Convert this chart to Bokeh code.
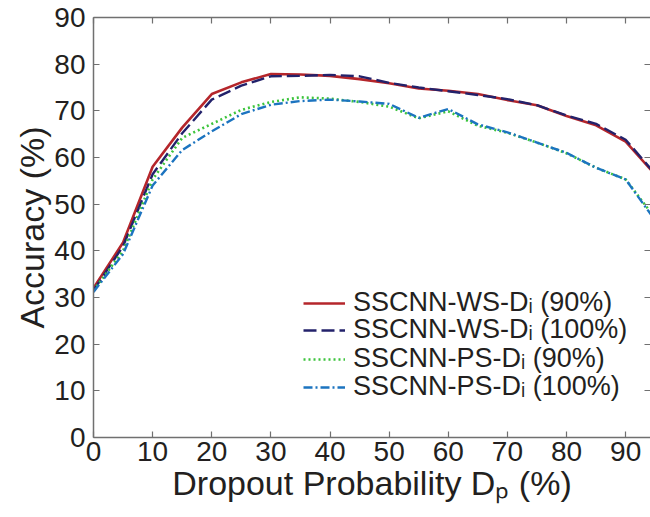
from bokeh.plotting import figure
from bokeh.models import LinearAxis, Legend, LegendItem, Range1d, FixedTicker
from bokeh.embed import file_html
from bokeh.resources import INLINE

# ---- data ----
dropout = [0, 5, 10, 15, 20, 25, 30, 35, 40, 45, 50, 55, 60, 65, 70, 75, 80, 85, 90, 95]
ws_90 = [32.0, 41.8, 58.0, 66.4, 73.6, 76.1, 77.9, 77.8, 77.5, 76.8, 75.9, 74.8, 74.3, 73.6, 72.3, 71.2, 68.9, 66.9, 63.4, 56.3]
ws_100 = [31.5, 41.0, 56.4, 65.2, 72.4, 75.4, 77.4, 77.5, 77.7, 77.4, 76.0, 75.0, 74.2, 73.4, 72.5, 71.2, 69.0, 67.2, 63.8, 56.5]
ps_90 = [31.5, 40.0, 55.3, 64.2, 67.2, 70.2, 71.9, 72.9, 72.6, 71.9, 70.9, 68.4, 69.9, 66.8, 65.3, 63.2, 60.9, 57.8, 55.3, 47.0]
ps_100 = [31.2, 39.3, 54.0, 61.6, 65.6, 69.3, 71.3, 72.1, 72.4, 72.0, 71.5, 68.5, 70.4, 67.1, 65.4, 63.2, 61.0, 57.8, 55.3, 46.5]

series_labels = ["SSCNN-WS-D\u1d62 (90%)", "SSCNN-WS-D\u1d62 (100%)",
                 "SSCNN-PS-D\u1d62 (90%)", "SSCNN-PS-D\u1d62 (100%)"]
x_ticks = [0, 10, 20, 30, 40, 50, 60, 70, 80, 90]
y_ticks = [0, 10, 20, 30, 40, 50, 60, 70, 80, 90]
x_label = "Dropout Probability D\u209a (%)"
y_label = "Accuracy (%)"

FONT = "Liberation Sans"
AXIS_COLOR = "#707070"
TEXT_COLOR = "#231f20"

p = figure(frame_width=557, frame_height=420,
           min_border_left=93, min_border_right=0, min_border_top=17, min_border_bottom=80,
           x_range=Range1d(0, 94.2), y_range=Range1d(0, 90),
           output_backend="svg", toolbar_location=None,
           x_axis_label=x_label, y_axis_label=y_label)
p.outline_line_color = None
p.xgrid.visible = False
p.ygrid.visible = False
p.background_fill_color = "white"
p.border_fill_color = "white"

styles = [
    dict(color="#b5262b", line_width=2.6, line_dash="solid"),
    dict(color="#23226b", line_width=2.4, line_dash="13 5"),
    dict(color="#3cc43c", line_width=2.6, line_dash="2 3"),
    dict(color="#1c74c0", line_width=2.4, line_dash="9 3 2 3"),
]
renderers = []
for ys, st in zip([ws_90, ws_100, ps_90, ps_100], styles):
    r = p.line(dropout, ys, **st)
    renderers.append(r)

for ax in (p.xaxis[0], p.yaxis[0]):
    ax.axis_line_color = AXIS_COLOR
    ax.axis_line_width = 1.5
    ax.major_tick_line_color = AXIS_COLOR
    ax.major_tick_line_width = 1.2
    ax.major_tick_in = 6
    ax.major_tick_out = 0
    ax.minor_tick_line_color = None
    ax.major_label_text_font = FONT
    ax.major_label_text_font_size = "28px"
    ax.major_label_text_color = TEXT_COLOR
    ax.axis_label_text_font = FONT
    ax.axis_label_text_font_size = "34px"
    ax.axis_label_text_font_style = "normal"
    ax.axis_label_text_color = TEXT_COLOR
    ax.axis_label_standoff = 0

p.xaxis[0].major_label_standoff = 4
p.yaxis[0].major_label_standoff = 8
p.xaxis[0].ticker = FixedTicker(ticks=x_ticks)
p.yaxis[0].ticker = FixedTicker(ticks=y_ticks)

# box-style frame: top line with inward ticks, right inward ticks (no labels)
top = LinearAxis(ticker=FixedTicker(ticks=[], minor_ticks=x_ticks),
                 axis_line_color=AXIS_COLOR, axis_line_width=1.5,
                 major_tick_line_color=None,
                 minor_tick_line_color=AXIS_COLOR, minor_tick_line_width=1.2,
                 minor_tick_in=6, minor_tick_out=0)
p.add_layout(top, "above")
right = LinearAxis(ticker=FixedTicker(ticks=[], minor_ticks=y_ticks),
                   axis_line_color=None, major_tick_line_color=None,
                   minor_tick_line_color=AXIS_COLOR, minor_tick_line_width=1.2,
                   minor_tick_in=6, minor_tick_out=0)
p.add_layout(right, "right")

# one legend box per row so the rows can sit as tightly as in the reference
row_offsets = [119, 92, 63, 35]
for lab, r, yoff in zip(series_labels, renderers, row_offsets):
    lg = Legend(items=[LegendItem(label=lab, renderers=[r])],
                location=(210, yoff), padding=0, margin=0, spacing=0,
                border_line_color=None, background_fill_alpha=0,
                glyph_width=42, glyph_height=24, label_height=24,
                label_text_font=FONT, label_text_font_size="27px",
                label_text_color=TEXT_COLOR, label_standoff=8)
    p.add_layout(lg, "center")

open("out.html", "w").write(file_html(p, INLINE))
